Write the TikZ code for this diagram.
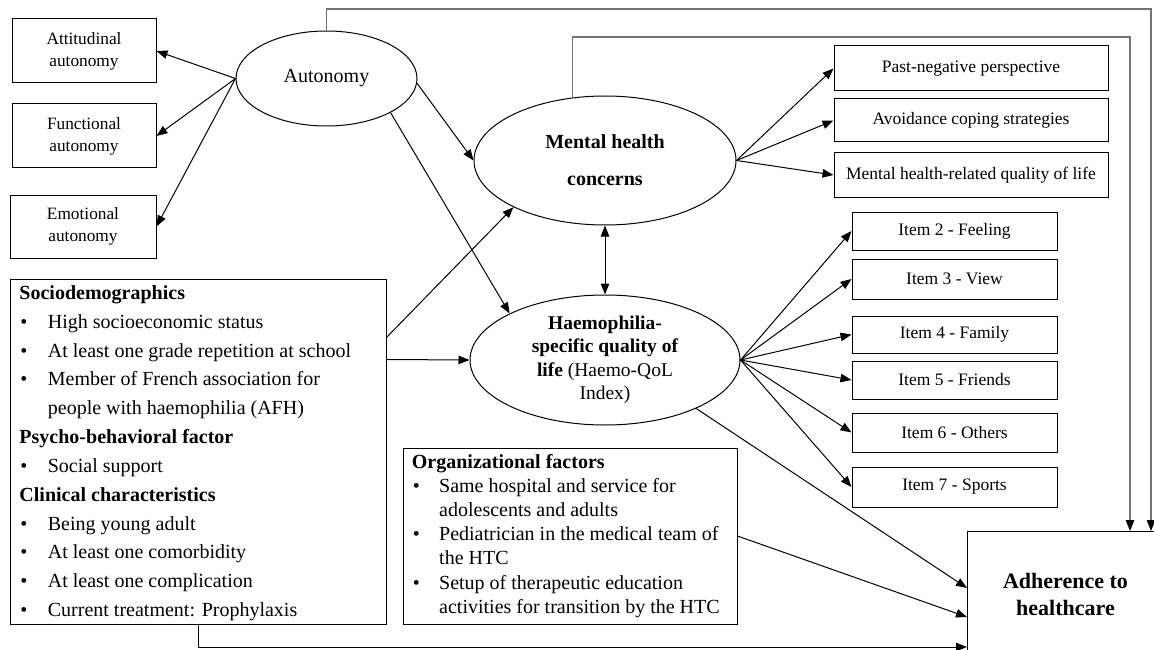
\documentclass[tikz,border=0pt]{standalone}
\usepackage{fontspec}
\setmainfont{Liberation Serif}
\usetikzlibrary{shapes.geometric,arrows.meta}
\definecolor{lgray}{gray}{0.45}
\newcommand\bul[1]{\makebox[#1][l]{\hspace{1pt}\textbullet}}
\tikzset{
  box/.style={draw, line width=1pt, inner sep=0pt, align=center, rectangle},
  ell/.style={draw, ellipse, line width=1pt, inner sep=0pt, align=center},
  arr/.style={-{Triangle[length=11pt,width=8.5pt]}, line width=1pt},
  garr/.style={-{Triangle[length=11pt,width=8.5pt,color=black]}, line width=1.1pt, draw=lgray},
  smallfont/.style={font=\fontsize{17.3}{22}\selectfont},
  rfont/.style={font=\fontsize{17.5}{21}\selectfont},
  line/.style={anchor=base west, inner sep=0pt, font=\fontsize{20}{24}\selectfont},
}
\begin{document}
\begin{tikzpicture}[x=1pt,y=-1pt]
\useasboundingbox (0,0) rectangle (1154,650);
\clip (0,0) rectangle (1154,650);

% left small boxes
\node[box, smallfont, minimum width=144pt, minimum height=64pt] (att) at (84,51) {Attitudinal\\autonomy};
\node[box, smallfont, minimum width=144pt, minimum height=64pt] (func) at (84,136) {Functional\\autonomy};
\node[box, smallfont, minimum width=146pt, minimum height=63pt] (emo) at (83,226.5) {Emotional\\autonomy};

% ellipses
\node[ell, minimum width=181pt, minimum height=95pt, font=\fontsize{20}{24}\selectfont] (auto) at (326.5,78.5) {Autonomy};
\node[ell, minimum width=262pt, minimum height=129pt, font=\fontsize{20}{37}\selectfont\bfseries] (mh) at (605,160.5) {Mental health\\concerns};
\node[ell, minimum width=270pt, minimum height=130pt, font=\fontsize{19.5}{23.5}\selectfont] (hq) at (605,360) {\textbf{Haemophilia-}\\\textbf{specific quality of}\\\textbf{life} (Haemo-QoL\\Index)};

% right boxes
\node[box, rfont, minimum width=274pt, minimum height=45pt] (past) at (971,68.5) {Past-negative perspective};
\node[box, rfont, minimum width=274pt, minimum height=43pt] (avoid) at (971,120.5) {Avoidance coping strategies};
\node[box, rfont, minimum width=274pt, minimum height=44pt] (mhr) at (971,175) {Mental health-related quality of life};

\node[box, rfont, minimum width=205pt, minimum height=38pt] (i2) at (954.5,231) {Item 2 - Feeling};
\node[box, rfont, minimum width=205pt, minimum height=40pt] (i3) at (954.5,279) {Item 3 - View};
\node[box, rfont, minimum width=205pt, minimum height=37pt] (i4) at (954.5,334.5) {Item 4 - Family};
\node[box, rfont, minimum width=205pt, minimum height=38pt] (i5) at (954.5,380) {Item 5 - Friends};
\node[box, rfont, minimum width=205pt, minimum height=39pt] (i6) at (954.5,432.5) {Item 6 - Others};
\node[box, rfont, minimum width=205pt, minimum height=40pt] (i7) at (954.5,487) {Item 7 - Sports};

% sociodemographics box
\node[box, minimum width=376pt, minimum height=345pt] (socio) at (198,451.5) {};
\foreach \k/\t in {
  0/{\textbf{Sociodemographics}},
  1/{\bul{28.4pt}High socioeconomic status},
  2/{\bul{28.4pt}At least one grade repetition at school},
  3/{\bul{28.4pt}Member of French association for},
  4/{\hspace*{28.4pt}people with haemophilia (AFH)},
  5/{\textbf{Psycho-behavioral factor}},
  6/{\bul{28.4pt}Social support},
  7/{\textbf{Clinical characteristics}},
  8/{\bul{28.4pt}Being young adult},
  9/{\bul{28.4pt}At least one comorbidity},
  10/{\bul{28.4pt}At least one complication},
  11/{\bul{28.4pt}Current treatment: Prophylaxis}}
  \node[line] (s\k) at (19.3,{299.3+\k*28.85}) {\t};

% organizational box
\node[box, minimum width=334pt, minimum height=176pt] (org) at (570,536) {};
\foreach \k/\t in {
  0/{\textbf{Organizational factors}},
  1/{\bul{27.3pt}Same hospital and service for},
  2/{\hspace*{27.3pt}adolescents and adults},
  3/{\bul{27.3pt}Pediatrician in the medical team of},
  4/{\hspace*{27.3pt}the HTC},
  5/{\bul{27.3pt}Setup of therapeutic education},
  6/{\hspace*{27.3pt}activities for transition by the HTC}}
  \node[line] (o\k) at (411.7,{468+\k*24.2}) {\t};

% adherence box (cut by the picture edge)
\node[box, anchor=north west, minimum width=196pt, minimum height=125pt, font=\fontsize{22}{27}\selectfont\bfseries] (adh) at (967,531) {Adherence to\\healthcare};

% connectors
\draw[arr] (auto.west) -- (att.east);
\draw[arr] (auto.west) -- (func.east);
\draw[arr] (auto.west) -- (emo.east);
\draw[arr] (auto.-3) -- (mh.west);
\draw[arr] (auto.-28) -- (hq.154);
\draw[{Triangle[length=11pt,width=8.5pt]}-{Triangle[length=11pt,width=8.5pt]}, line width=1pt] (mh.south) -- (hq.north);
\draw[arr] ([yshift=-59pt]socio.north east) -- (mh.207);
\draw[arr] ([yshift=-81pt]socio.north east) -- (hq.west);

\draw[arr] (mh.east) -- (past.west);
\draw[arr] (mh.east) -- (avoid.west);
\draw[arr] (mh.east) -- (mhr.west);

\foreach \n in {i2,i3,i4,i5,i6,i7}
  \draw[arr] (hq.east) -- (\n.west);

\draw[arr] (hq.-28) -- ([yshift=-57pt]adh.north west);
\draw[arr] (org.east) -- ([yshift=-86pt]adh.north west);
\draw[arr] ([xshift=189pt]socio.south west) |- ([yshift=-116pt]adh.north west);

\coordinate (c1) at (1151,9);
\coordinate (c2) at (1130,37);
\draw[garr] (auto.north) |- (c1) -- (c1 |- adh.north);
\draw[garr] (mh.117) |- (c2) -- (c2 |- adh.north);
\end{tikzpicture}
\end{document}
